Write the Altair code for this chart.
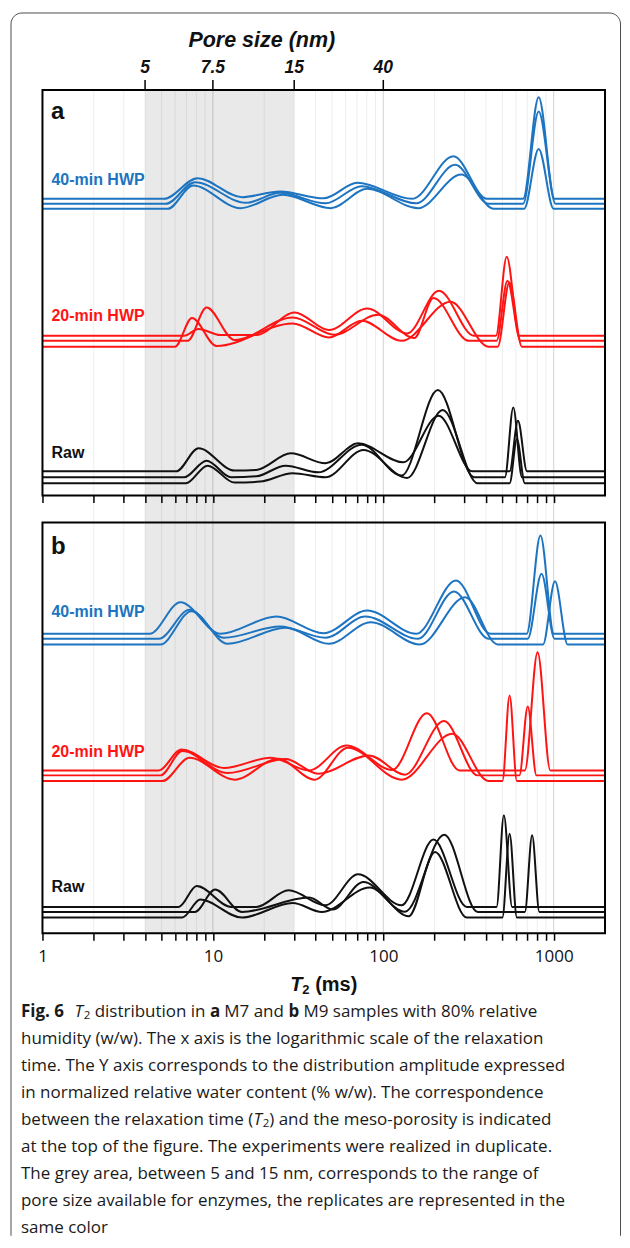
import altair as alt
import pandas as pd

# ---------------- chart values ----------------
GROUPS = ["40-min HWP", "20-min HWP", "Raw"]
GROUP_COLORS = ["#1d74c0", "#ff1414", "#111111"]

X_DOMAIN = [1, 2000]
AXIS_TICKS = [1, 2, 3, 4, 5, 6, 7, 8, 9,
              10, 20, 30, 40, 50, 60, 70, 80, 90,
              100, 200, 300, 400, 500, 600, 700, 800, 900, 1000]
AXIS_LABELS = [1, 10, 100, 1000]
GRID_MINOR = [2, 3, 4, 5, 6, 7, 8, 9, 20, 30, 40, 50, 60, 70, 80, 90,
              200, 300, 400, 500, 600, 700, 800, 900]
GRID_MAJOR = [10, 100, 1000]
GREY_BAND_T2 = [4, 30]
PORE_T2 = [4, 10, 30, 100]
PORE_LABELS = ["5", "7.5", "15", "40"]

# ---- panel a (M7): T2 (ms) and displayed amplitude (each replicate offset) ----
a_hwp40_r1_t2 = [1, 5.17, 8.12, 14.8, 24.8, 44.6, 70.4, 148, 258, 405, 661, 816, 1012, 2000]
a_hwp40_r1_amp = [297, 297, 317.7, 298.7, 304.3, 297.5, 313, 297, 339.7, 297, 297, 398.7, 297, 297]
a_hwp40_r2_t2 = [1, 5.30, 7.84, 15.6, 24.8, 45.8, 74.7, 156, 264, 415, 661, 816, 1026, 2000]
a_hwp40_r2_amp = [292, 292, 313.7, 293, 303, 292.5, 309.7, 292.5, 331, 292, 292, 384.3, 292, 292]
a_hwp40_r3_t2 = [1, 5.43, 7.65, 14.5, 25.7, 49.2, 80.4, 160, 287, 446, 670, 816, 1000, 2000]
a_hwp40_r3_amp = [287, 287, 310.3, 287.7, 301, 287.7, 307, 287.7, 321.3, 287, 287, 347, 287, 287]

a_hwp20_r1_t2 = [1, 6.77, 8.24, 11.05, 18.0, 30.2, 48.0, 80.4, 138, 212, 341, 458, 530, 629, 2000]
a_hwp20_r1_amp = [160, 160, 166.7, 160.7, 160.7, 183.3, 165.7, 187.3, 162.3, 205, 160, 160, 239, 160, 160]
a_hwp20_r2_t2 = [1, 7.11, 9.18, 13.4, 29.4, 51.7, 93.1, 152, 197, 317, 462, 535, 639, 2000]
a_hwp20_r2_amp = [155, 155, 188.3, 155.7, 178.3, 161, 181, 157.7, 197.7, 155, 155, 215, 155, 155]
a_hwp20_r3_t2 = [1, 5.99, 7.54, 10.5, 29.4, 48.0, 74.7, 128, 248, 415, 469, 549, 651, 2000]
a_hwp20_r3_amp = [149, 149, 177.7, 149.7, 172.3, 158.3, 175, 155, 194, 149, 149, 213.3, 149, 149]

a_raw_r1_t2 = [1, 6.08, 8.24, 13.4, 18.0, 28.7, 45.8, 71.1, 131, 211, 333, 551, 617, 697, 2000]
a_raw_r1_amp = [24.3, 24.3, 47.3, 25, 25.7, 42.3, 32.3, 52.3, 33.3, 80, 24.3, 24.3, 75, 24.3, 24.3]
a_raw_r2_t2 = [1, 6.77, 9.18, 12.8, 18.0, 26.7, 41.5, 74.7, 128, 209, 341, 517, 579, 651, 2000]
a_raw_r2_amp = [18.3, 18.3, 35, 18.3, 19.3, 30, 23.3, 51, 20, 105.7, 18.3, 18.3, 88.3, 18.3, 18.3]
a_raw_r3_t2 = [1, 6.94, 9.31, 13.4, 18.9, 29.4, 45.8, 76.5, 138, 223, 358, 551, 608, 677, 2000]
a_raw_r3_amp = [12.3, 12.3, 30, 13, 14, 22.3, 18.3, 45.7, 17.7, 85.7, 12.3, 12.3, 56.7, 12.3, 12.3]

# ---- panel b (M9) ----
b_hwp40_r1_t2 = [1, 4.25, 6.45, 11.05, 23.6, 44.6, 80.4, 156, 267, 425, 694, 836, 1002, 2000]
b_hwp40_r1_amp = [299.7, 299.7, 331.3, 299.7, 317, 300.3, 323, 299.7, 353, 299.7, 299.7, 398, 299.7, 299.7]
b_hwp40_r2_t2 = [1, 4.81, 7.29, 11.6, 24.8, 45.8, 78.4, 160, 260, 415, 704, 848, 1012, 2000]
b_hwp40_r2_amp = [294.7, 294.7, 323.7, 295.7, 307, 295.7, 317, 294.7, 342, 294.7, 294.7, 359.7, 294.7, 294.7]
b_hwp40_r3_t2 = [1, 4.92, 7.47, 12.2, 26.7, 48.0, 84.4, 164, 302, 469, 865, 1017, 1207, 2000]
b_hwp40_r3_amp = [289, 289, 322.3, 289.7, 305.7, 289.7, 311.3, 289, 336.3, 289, 289, 352.3, 289, 289]

b_hwp20_r1_t2 = [1, 4.81, 6.54, 11.6, 21.9, 36.7, 60.8, 113, 180, 280, 677, 804, 955, 2000]
b_hwp20_r1_amp = [163, 163, 184, 165.3, 175.7, 163, 188, 163.5, 220.3, 163, 163, 281.3, 163, 163]
b_hwp20_r2_t2 = [1, 4.92, 6.61, 12.2, 26.7, 41.5, 82.4, 134, 227, 358, 629, 704, 792, 2000]
b_hwp20_r2_amp = [158, 158, 182.3, 160.3, 174.3, 159.7, 178, 158.7, 212.3, 158, 158, 227, 158, 158]
b_hwp20_r3_t2 = [1, 5.05, 7.29, 13.4, 24.2, 39.5, 62.0, 128, 254, 415, 500, 551, 608, 2000]
b_hwp20_r3_amp = [152.3, 152.3, 175.7, 153.7, 174.7, 153.7, 185.7, 153.7, 199.7, 152.3, 152.3, 238, 152.3, 152.3]

b_raw_r1_t2 = [1, 6.29, 8.04, 12.8, 18.0, 27.8, 45.8, 71.1, 128, 197, 309, 462, 510, 570, 2000]
b_raw_r1_amp = [26.3, 26.3, 47.3, 26.3, 26.3, 43, 28, 59, 28, 93.7, 26.3, 26.3, 118, 26.3, 26.3]
b_raw_r2_t2 = [1, 7.84, 10.3, 14.8, 36.7, 50.5, 76.5, 134, 228, 358, 677, 747, 824, 2000]
b_raw_r2_amp = [21.3, 21.3, 43.7, 21.3, 35.7, 23.7, 51.3, 21.5, 98.7, 21.3, 21.3, 98, 21.3, 21.3]
b_raw_r3_t2 = [1, 6.61, 8.44, 14.8, 29.4, 43.6, 83.1, 141, 201, 309, 500, 551, 608, 2000]
b_raw_r3_amp = [15.7, 15.7, 33.7, 15.7, 30.3, 21.3, 45.7, 17, 81.3, 15.7, 15.7, 99.7, 15.7, 15.7]

# ---- texts ----
PORE_TITLE = "Pore size (nm)"
X_TITLE = ["T", "2", "(ms)"]
CAPTION_PLAIN = {
    2: "humidity (w/w). The x axis is the logarithmic scale of the relaxation",
    3: "time. The Y axis corresponds to the distribution amplitude expressed",
    4: "in normalized relative water content (% w/w). The correspondence",
    6: "at the top of the figure. The experiments were realized in duplicate.",
    7: "The grey area, between 5 and 15 nm, corresponds to the range of",
    8: "pore size available for enzymes, the replicates are represented in the",
    9: "same color",
}

# ---------------- layout / style ----------------
W = 563
HA, HB = 406, 411
GAP = 27
ONE = pd.DataFrame({"k": [0]})
CAP_FONT = "Open Sans"
CAP_FS = 17
CAP_X = -21.5
CAP_Y0 = 490
CAP_DY = 27

REG = {' ': 260, 'a': 556, 'b': 613, 'c': 476, 'd': 613, 'e': 561, 'f': 336, 'g': 548,
       'h': 614, 'i': 252, 'j': 252, 'k': 525, 'l': 252, 'm': 930, 'n': 614, 'o': 604,
       'p': 613, 'q': 613, 'r': 408, 's': 477, 't': 353, 'u': 614, 'v': 501, 'w': 778,
       'x': 524, 'y': 502, 'z': 468, 'T': 547, 'M': 903, 'Y': 527, 'F': 532, '.': 266,
       ',': 245, '(': 296, ')': 296, '/': 367, '%': 827, '-': 322}
for _d in "0123456789":
    REG[_d] = 572
BOLD = {'F': 578, 'i': 297, 'g': 563, '.': 285, ' ': 260, '6': 572, 'a': 582, 'b': 620}


def tw(s, size, table=REG):
    return sum(table.get(ch, 560) for ch in s) * size / 1000.0


def text_layer(s, x, y, size, color="#111111", font="Liberation Sans", weight="normal",
               style="normal", align="left", baseline="middle"):
    return alt.Chart(ONE).mark_text(
        text=s, font=font, fontSize=size, fontWeight=weight, fontStyle=style,
        color=color, align=align, baseline=baseline, clip=False
    ).encode(x=alt.value(x), y=alt.value(y))


def build_df(traces):
    rows = []
    for group, rep, t2s, amps in traces:
        for i, (t, a) in enumerate(zip(t2s, amps)):
            rows.append({"group": group, "trace": f"{group} #{rep}", "i": i, "t2": t, "amp": a})
    return pd.DataFrame(rows)


def panel(df, H, extra, letter, letter_y, label_ys, bottom):
    xs = alt.Scale(type="log", domain=X_DOMAIN, nice=False)
    ys = alt.Scale(domain=[0, H], nice=False, zero=False)
    label_test = "indexof([" + ",".join(str(v) for v in AXIS_LABELS) + "], datum.value) >= 0"
    axis = alt.Axis(values=AXIS_TICKS, format="d", labelExpr=f"{label_test} ? datum.label : ''",
                    labels=bottom, domain=False, grid=False, ticks=True, tickSize=7,
                    tickColor="black", tickWidth=1.5, labelFont="Open Sans", labelFontSize=17,
                    labelColor="#111111", labelPadding=8, labelFlush=False, labelOverlap=False,
                    title=None, zindex=1)
    xenc = lambda f: alt.X(f, scale=xs, axis=axis)
    band = alt.Chart(pd.DataFrame({"lo": [GREY_BAND_T2[0]], "hi": [GREY_BAND_T2[1]]})).mark_rect(
        color="#e9e9e9", clip=False
    ).encode(x=xenc("lo:Q"), x2="hi:Q", y=alt.value(1), y2=alt.value(H + extra))
    gmin = alt.Chart(pd.DataFrame({"v": GRID_MINOR})).mark_rule(
        color="black", strokeOpacity=0.075, strokeWidth=1, clip=False
    ).encode(x=xenc("v:Q"), y=alt.value(0), y2=alt.value(H + extra))
    gmaj = alt.Chart(pd.DataFrame({"v": GRID_MAJOR})).mark_rule(
        color="black", strokeOpacity=0.18, strokeWidth=1, clip=False
    ).encode(x=xenc("v:Q"), y=alt.value(0), y2=alt.value(H + extra))
    lines = alt.Chart(df).mark_line(interpolate="monotone", strokeWidth=2).encode(
        x=xenc("t2:Q"),
        y=alt.Y("amp:Q", scale=ys, axis=None),
        color=alt.Color("group:N", scale=alt.Scale(domain=GROUPS, range=GROUP_COLORS), legend=None),
        detail="trace:N",
        order=alt.Order("i:Q"),
    )
    layers = [band, gmin, gmaj, lines]
    for g, c, yy in zip(GROUPS, GROUP_COLORS, label_ys):
        layers.append(text_layer(g, 9, yy, 16, color=c, weight="bold"))
    layers.append(text_layer(letter, 8.5, letter_y, 24, color="#111111", weight="bold"))
    frame = alt.Chart(ONE).mark_rect(
        fill="white", fillOpacity=0, stroke="black", strokeWidth=2, clip=False
    ).encode(x=alt.value(0), x2=alt.value(W), y=alt.value(0), y2=alt.value(H))
    return layers, frame, xenc


# ---------------- panel a ----------------
df_a = build_df([
    (GROUPS[0], 1, a_hwp40_r1_t2, a_hwp40_r1_amp),
    (GROUPS[0], 2, a_hwp40_r2_t2, a_hwp40_r2_amp),
    (GROUPS[0], 3, a_hwp40_r3_t2, a_hwp40_r3_amp),
    (GROUPS[1], 1, a_hwp20_r1_t2, a_hwp20_r1_amp),
    (GROUPS[1], 2, a_hwp20_r2_t2, a_hwp20_r2_amp),
    (GROUPS[1], 3, a_hwp20_r3_t2, a_hwp20_r3_amp),
    (GROUPS[2], 1, a_raw_r1_t2, a_raw_r1_amp),
    (GROUPS[2], 2, a_raw_r2_t2, a_raw_r2_amp),
    (GROUPS[2], 3, a_raw_r3_t2, a_raw_r3_amp),
])
layers_a, frame_a, xenc_a = panel(df_a, HA, GAP, "a", 22, [90, 226, 363], False)

border = alt.Chart(ONE).mark_rect(
    fill="white", fillOpacity=0, stroke="#4d4d4d", strokeWidth=1,
    cornerRadiusTopLeft=11, cornerRadiusTopRight=11, clip=False
).encode(x=alt.value(-31.5), x2=alt.value(578.5), y=alt.value(-77), y2=alt.value(1146.5))
border_cover = alt.Chart(ONE).mark_rule(color="white", strokeWidth=1.5, clip=False).encode(
    x=alt.value(-31), x2=alt.value(578), y=alt.value(1146.5))

pore_df = pd.DataFrame({"t2": PORE_T2, "lab": PORE_LABELS})
pore_ticks = alt.Chart(pore_df).mark_rule(color="black", strokeWidth=1.5, clip=False).encode(
    x=xenc_a("t2:Q"), y=alt.value(-10), y2=alt.value(0))
pore_text = alt.Chart(pore_df).mark_text(
    font="Liberation Sans", fontSize=17.5, fontWeight="bold", fontStyle="italic",
    align="center", baseline="middle", color="#111111", clip=False
).encode(x=xenc_a("t2:Q"), y=alt.value(-22), text="lab:N")
pore_title = text_layer(PORE_TITLE, 219.5, -49, 21.5, weight="bold", style="italic", align="center")

panel_a = alt.layer(
    border, border_cover, *layers_a, pore_ticks, pore_text, pore_title, frame_a
).properties(width=W, height=HA)

# ---------------- panel b ----------------
df_b = build_df([
    (GROUPS[0], 1, b_hwp40_r1_t2, b_hwp40_r1_amp),
    (GROUPS[0], 2, b_hwp40_r2_t2, b_hwp40_r2_amp),
    (GROUPS[0], 3, b_hwp40_r3_t2, b_hwp40_r3_amp),
    (GROUPS[1], 1, b_hwp20_r1_t2, b_hwp20_r1_amp),
    (GROUPS[1], 2, b_hwp20_r2_t2, b_hwp20_r2_amp),
    (GROUPS[1], 3, b_hwp20_r3_t2, b_hwp20_r3_amp),
    (GROUPS[2], 1, b_raw_r1_t2, b_raw_r1_amp),
    (GROUPS[2], 2, b_raw_r2_t2, b_raw_r2_amp),
    (GROUPS[2], 3, b_raw_r3_t2, b_raw_r3_amp),
])
layers_b, frame_b, xenc_b = panel(df_b, HB, 0, "b", 24, [89, 230, 365], True)

# x-axis title  T2 (ms)
TW_T = 12.2
TW_2 = 7.2
TW_SP = 5.6
TW_MS = 42.2
tx0 = W / 2 - (TW_T + TW_2 + TW_SP + TW_MS) / 2
ty = 463
xtitle = [
    text_layer(X_TITLE[0], tx0, ty, 20, weight="bold", style="italic"),
    text_layer(X_TITLE[1], tx0 + TW_T, ty + 5, 13, weight="bold"),
    text_layer(X_TITLE[2], tx0 + TW_T + TW_2 + TW_SP, ty, 20, weight="bold"),
]


def seg_line(segs, y):
    x = CAP_X
    out = []
    for s, kind, gap in segs:
        if kind == "bold":
            out.append(text_layer(s, x, y, CAP_FS, color="#1a1a1a", font=CAP_FONT, weight="bold"))
            x += tw(s, CAP_FS, BOLD)
        elif kind == "italic":
            out.append(text_layer(s, x, y, CAP_FS, color="#1a1a1a", font=CAP_FONT, style="italic"))
            x += tw(s, CAP_FS)
        elif kind == "sub":
            out.append(text_layer(s, x, y + 4, 11.5, color="#1a1a1a", font=CAP_FONT))
            x += tw(s, 11.5)
        else:
            out.append(text_layer(s, x, y, CAP_FS, color="#1a1a1a", font=CAP_FONT))
            x += tw(s, CAP_FS)
        x += gap
    return out


SP = tw(" ", CAP_FS)
line1 = [("Fig. 6", "bold", 10), ("T", "italic", 0), ("2", "sub", SP),
         ("distribution in", "plain", SP), ("a", "bold", SP), ("M7 and", "plain", SP),
         ("b", "bold", SP), ("M9 samples with 80% relative", "plain", 0)]
line5 = [("between the relaxation time (", "plain", 0), ("T", "italic", 0), ("2", "sub", 0),
         (") and the meso-porosity is indicated", "plain", 0)]
cap_layers = []
cap_layers += seg_line(line1, CAP_Y0)
cap_layers += seg_line(line5, CAP_Y0 + 4 * CAP_DY)
for n, s in CAPTION_PLAIN.items():
    cap_layers.append(text_layer(s, CAP_X, CAP_Y0 + (n - 1) * CAP_DY, CAP_FS,
                                 color="#1a1a1a", font=CAP_FONT))

panel_b = alt.layer(*layers_b, *xtitle, *cap_layers, frame_b).properties(width=W, height=HB)

chart = alt.vconcat(panel_a, panel_b, spacing=GAP, bounds="flush").properties(
    padding={"left": 1.5, "top": 3.5, "right": 0, "bottom": 0}
).configure_view(stroke="transparent")

chart.save("out.html", embed_options={"renderer": "svg", "actions": False})
